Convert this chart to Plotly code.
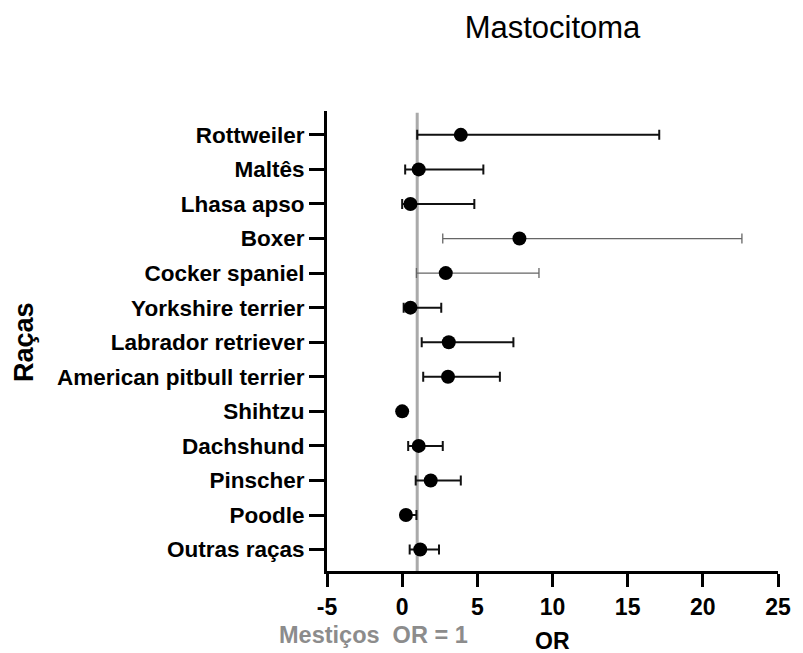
import plotly.graph_objects as go
import numpy as np

breeds = ["Rottweiler", "Maltês", "Lhasa apso", "Boxer", "Cocker spaniel",
          "Yorkshire terrier", "Labrador retriever", "American pitbull terrier",
          "Shihtzu", "Dachshund", "Pinscher", "Poodle", "Outras raças"]
odds = [3.9, 1.1, 0.55, 7.8, 2.9, 0.55, 3.1, 3.05, 0.0, 1.1, 1.9, 0.25, 1.2]
ci_low = [1.0, 0.2, 0.0, 2.7, 0.95, 0.1, 1.3, 1.4, None, 0.4, 0.9, 0.1, 0.5]
ci_high = [17.1, 5.4, 4.8, 22.6, 9.1, 2.6, 7.4, 6.5, None, 2.7, 3.9, 0.95, 2.45]
light_bars = ["Boxer", "Cocker spaniel"]
ref_or = 1
x_ticks = [-5, 0, 5, 10, 15, 20, 25]
x_tick_labels = ["-5", "0", "5", "10", "15", "20", "25"]

FONT = "Liberation Sans, Arial, sans-serif"


def subset(names):
    idx = [i for i, b in enumerate(breeds) if b in names]
    ys = [breeds[i] for i in idx]
    xs = [odds[i] for i in idx]
    plus = [(ci_high[i] - odds[i]) if ci_high[i] is not None else np.nan for i in idx]
    minus = [(odds[i] - ci_low[i]) if ci_low[i] is not None else np.nan for i in idx]
    return ys, xs, plus, minus


fig = go.Figure()

dark = [b for b in breeds if b not in light_bars]
for names, col, thick in [(dark, "#111111", 2), (light_bars, "#666666", 1.3)]:
    ys, xs, plus, minus = subset(names)
    fig.add_trace(go.Scatter(
        x=xs, y=ys, mode="markers",
        marker=dict(color="black", size=14),
        error_x=dict(type="data", symmetric=False, array=plus, arrayminus=minus,
                     color=col, thickness=thick, width=5),
        showlegend=False,
    ))

fig.add_shape(type="line", xref="x", yref="paper", x0=ref_or, x1=ref_or,
              y0=0, y1=0.996, line=dict(color="#aaaaaa", width=3), layer="below")

fig.add_annotation(text="Mestiços  OR = 1", xref="paper", yref="paper",
                   x=(374 - 327) / 460, y=-(635 - 571) / 460, showarrow=False,
                   xanchor="center", yanchor="middle",
                   font=dict(family=FONT, size=23.5, color="#8c8c8c", weight="bold"))
fig.add_annotation(text="OR", xref="paper", yref="paper",
                   x=0.5, y=-(641 - 571) / 460, showarrow=False,
                   xanchor="center", yanchor="middle",
                   font=dict(family=FONT, size=23, color="black", weight="bold"))
fig.add_annotation(text="Raças", xref="paper", yref="paper",
                   x=-(327 - 18) / 460, y=(571 - 342) / 460, showarrow=False,
                   textangle=-90, xanchor="center", yanchor="middle",
                   font=dict(family=FONT, size=27, color="black", weight="bold"))

fig.update_layout(
    width=803, height=653,
    margin=dict(l=327, r=16, t=111, b=82),
    paper_bgcolor="white", plot_bgcolor="white",
    title=dict(text="Mastocitoma", x=0.5, xref="paper", y=1 - 27 / 653,
               yref="container", xanchor="center", yanchor="middle",
               font=dict(family=FONT, size=31, color="black")),
    xaxis=dict(range=[-5, 25], tickvals=x_ticks, ticktext=x_tick_labels,
               showgrid=False, zeroline=False,
               showline=True, linecolor="black", linewidth=3,
               ticks="outside", ticklen=13, tickwidth=3, tickcolor="black",
               tickfont=dict(family=FONT, size=23, color="black", weight="bold")),
    yaxis=dict(type="category", categoryorder="array", categoryarray=breeds,
               range=[12.62, -0.69], showgrid=False, zeroline=False,
               showline=True, linecolor="black", linewidth=3,
               ticks="outside", ticklen=15, tickwidth=3, tickcolor="black",
               tickfont=dict(family=FONT, size=22.5, color="black", weight="bold")),
)

fig.write_html("out.html")
